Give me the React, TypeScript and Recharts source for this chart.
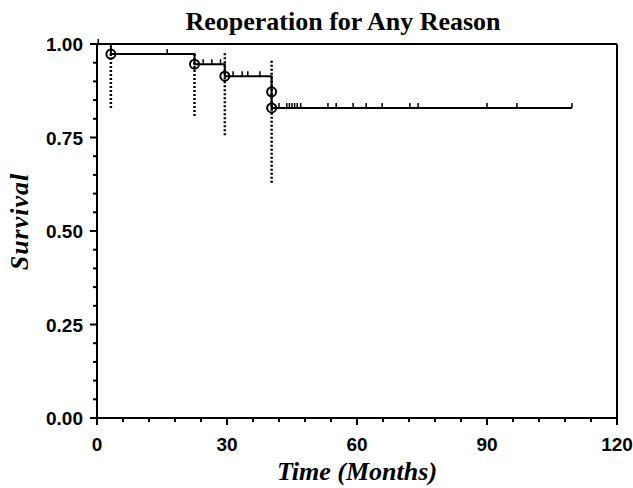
import React from 'react';
import {
    ComposedChart,
    Line,
    Scatter,
    XAxis,
    YAxis,
    ReferenceLine
} from 'recharts';

// Kaplan-Meier step curve
const stepTimes = [0, 3.2, 22.5, 29.5, 40.3, 109.6];
const stepSurvival = [1, 0.973, 0.946, 0.914, 0.829, 0.829];

// event markers (open circles)
const eventTimes = [3.2, 22.5, 29.5, 40.3, 40.3];
const eventSurvival = [0.973, 0.946, 0.914, 0.872, 0.829];

// censored observations (small tick marks)
const censorTimes = [
    0.3, 16.2, 24.5, 26.5, 28.5, 31.4, 33.5, 34.8, 37.6,
    42.0, 43.8, 44.4, 45.0, 45.6, 46.2, 47.0, 53.3, 55.2, 59.1,
    62.1, 65.8, 72.2, 74.1, 90.0, 96.9, 109.6
];
const censorSurvival = [
    1, 0.973, 0.946, 0.946, 0.946, 0.914, 0.914, 0.914, 0.914,
    0.829, 0.829, 0.829, 0.829, 0.829, 0.829, 0.829, 0.829, 0.829, 0.829,
    0.829, 0.829, 0.829, 0.829, 0.829, 0.829, 0.829
];

// confidence limits drawn as dotted verticals at each event
const ciTimes = [3.2, 22.5, 29.5, 40.3];
const ciUpper = [0.973, 0.973, 0.975, 0.955];
const ciLower = [0.826, 0.802, 0.756, 0.625];

const xTicks = [0, 6, 12, 18, 24, 30, 36, 42, 48, 54, 60, 66, 72, 78, 84, 90, 96, 102, 108, 114, 120];
const xLabels = [0, 30, 60, 90, 120];
const yTicks = [0, 0.05, 0.1, 0.15, 0.2, 0.25, 0.3, 0.35, 0.4, 0.45, 0.5, 0.55, 0.6, 0.65, 0.7, 0.75, 0.8, 0.85, 0.9, 0.95, 1];
const yLabels = [0, 0.25, 0.5, 0.75, 1];

const stepData = stepTimes.map((t, i) => ({ t, s: stepSurvival[i] }));
const eventData = eventTimes.map((t, i) => ({ t, s: eventSurvival[i] }));
const censorData = censorTimes.map((t, i) => ({ t, s: censorSurvival[i] }));

const tickFont = '"Liberation Sans", Arial, sans-serif';
const serif = '"Liberation Serif", "Times New Roman", serif';

const XTick = (props: any) => {
    const { x, y, payload } = props;
    const major = xLabels.includes(payload.value);
    return (
        <g>
            <line x1={x} y1={y} x2={x} y2={y + (major ? 7 : 4)} stroke="#000" strokeWidth={2} />
            {major && (
                <text x={x} y={y + 33} textAnchor="middle" fill="#000"
                    style={{ fontFamily: tickFont, fontWeight: 'bold', fontSize: 19 }}>
                    {payload.value}
                </text>
            )}
        </g>
    );
};

const YTick = (props: any) => {
    const { x, y, payload } = props;
    const major = yLabels.some(v => Math.abs(v - payload.value) < 1e-6);
    return (
        <g>
            <line x1={x} y1={y} x2={x - (major ? 7 : 4)} y2={y} stroke="#000" strokeWidth={2} />
            {major && (
                <text x={x - 14} y={y + 7} textAnchor="end" fill="#000"
                    style={{ fontFamily: tickFont, fontWeight: 'bold', fontSize: 19 }}>
                    {payload.value.toFixed(2)}
                </text>
            )}
        </g>
    );
};

const EventCircle = (props: any) => {
    const { cx, cy } = props;
    return <circle cx={cx} cy={cy} r={4.5} fill="none" stroke="#000" strokeWidth={2} />;
};

const CensorTick = (props: any) => {
    const { cx, cy } = props;
    return <line x1={cx} y1={cy} x2={cx} y2={cy - 5} stroke="#000" strokeWidth={1.5} />;
};

export default function App() {
    return (
        <div style={{ position: 'absolute', left: 0, top: 0, width: 633, height: 488, background: '#fff' }}>
            <ComposedChart
                width={633}
                height={488}
                margin={{ top: 44, right: 16, bottom: 0, left: 0 }}
            >
                <XAxis
                    type="number"
                    dataKey="t"
                    domain={[0, 120]}
                    ticks={xTicks}
                    interval={0}
                    tick={<XTick />}
                    tickSize={0}
                    tickMargin={0}
                    axisLine={{ stroke: '#000', strokeWidth: 2 }}
                    height={70}
                    allowDuplicatedCategory={false}
                />
                <YAxis
                    type="number"
                    dataKey="s"
                    domain={[0, 1]}
                    ticks={yTicks}
                    interval={0}
                    tick={<YTick />}
                    tickSize={0}
                    tickMargin={0}
                    axisLine={{ stroke: '#000', strokeWidth: 2 }}
                    width={97}
                />
                <ReferenceLine y={1} stroke="#000" strokeWidth={2} />
                <ReferenceLine x={120} stroke="#000" strokeWidth={2} />
                {ciTimes.map((t, i) => (
                    <ReferenceLine
                        key={'ci' + i}
                        segment={[{ x: t, y: ciUpper[i] }, { x: t, y: ciLower[i] }]}
                        stroke="#000"
                        strokeWidth={2.5}
                        strokeDasharray="2 2"
                    />
                ))}
                <Line
                    data={stepData}
                    dataKey="s"
                    type="stepAfter"
                    stroke="#000"
                    strokeWidth={2}
                    dot={false}
                    isAnimationActive={false}
                />
                <Scatter data={censorData} dataKey="s" shape={<CensorTick />} isAnimationActive={false} />
                <Scatter data={eventData} dataKey="s" shape={<EventCircle />} isAnimationActive={false} />
            </ComposedChart>
            <div style={{
                position: 'absolute', left: 143, width: 400, top: 7, textAlign: 'center', whiteSpace: 'nowrap',
                fontFamily: serif, fontWeight: 'bold', fontSize: 26, lineHeight: '29px', color: '#000'
            }}>
                Reoperation for Any Reason
            </div>
            <div style={{
                position: 'absolute', left: 97, width: 520, top: 457, textAlign: 'center', whiteSpace: 'nowrap',
                fontFamily: serif, fontWeight: 'bold', fontStyle: 'italic', fontSize: 26, lineHeight: '29px', color: '#000'
            }}>
                Time (Months)
            </div>
            <div style={{
                position: 'absolute', left: 19, top: 223, width: 0, height: 0
            }}>
                <div style={{
                    position: 'absolute', left: -100, top: -16, width: 200, textAlign: 'center',
                    transform: 'rotate(-90deg)', whiteSpace: 'nowrap', letterSpacing: 1,
                    fontFamily: serif, fontWeight: 'bold', fontStyle: 'italic', fontSize: 26, lineHeight: '29px', color: '#000'
                }}>
                    Survival
                </div>
            </div>
        </div>
    );
}
